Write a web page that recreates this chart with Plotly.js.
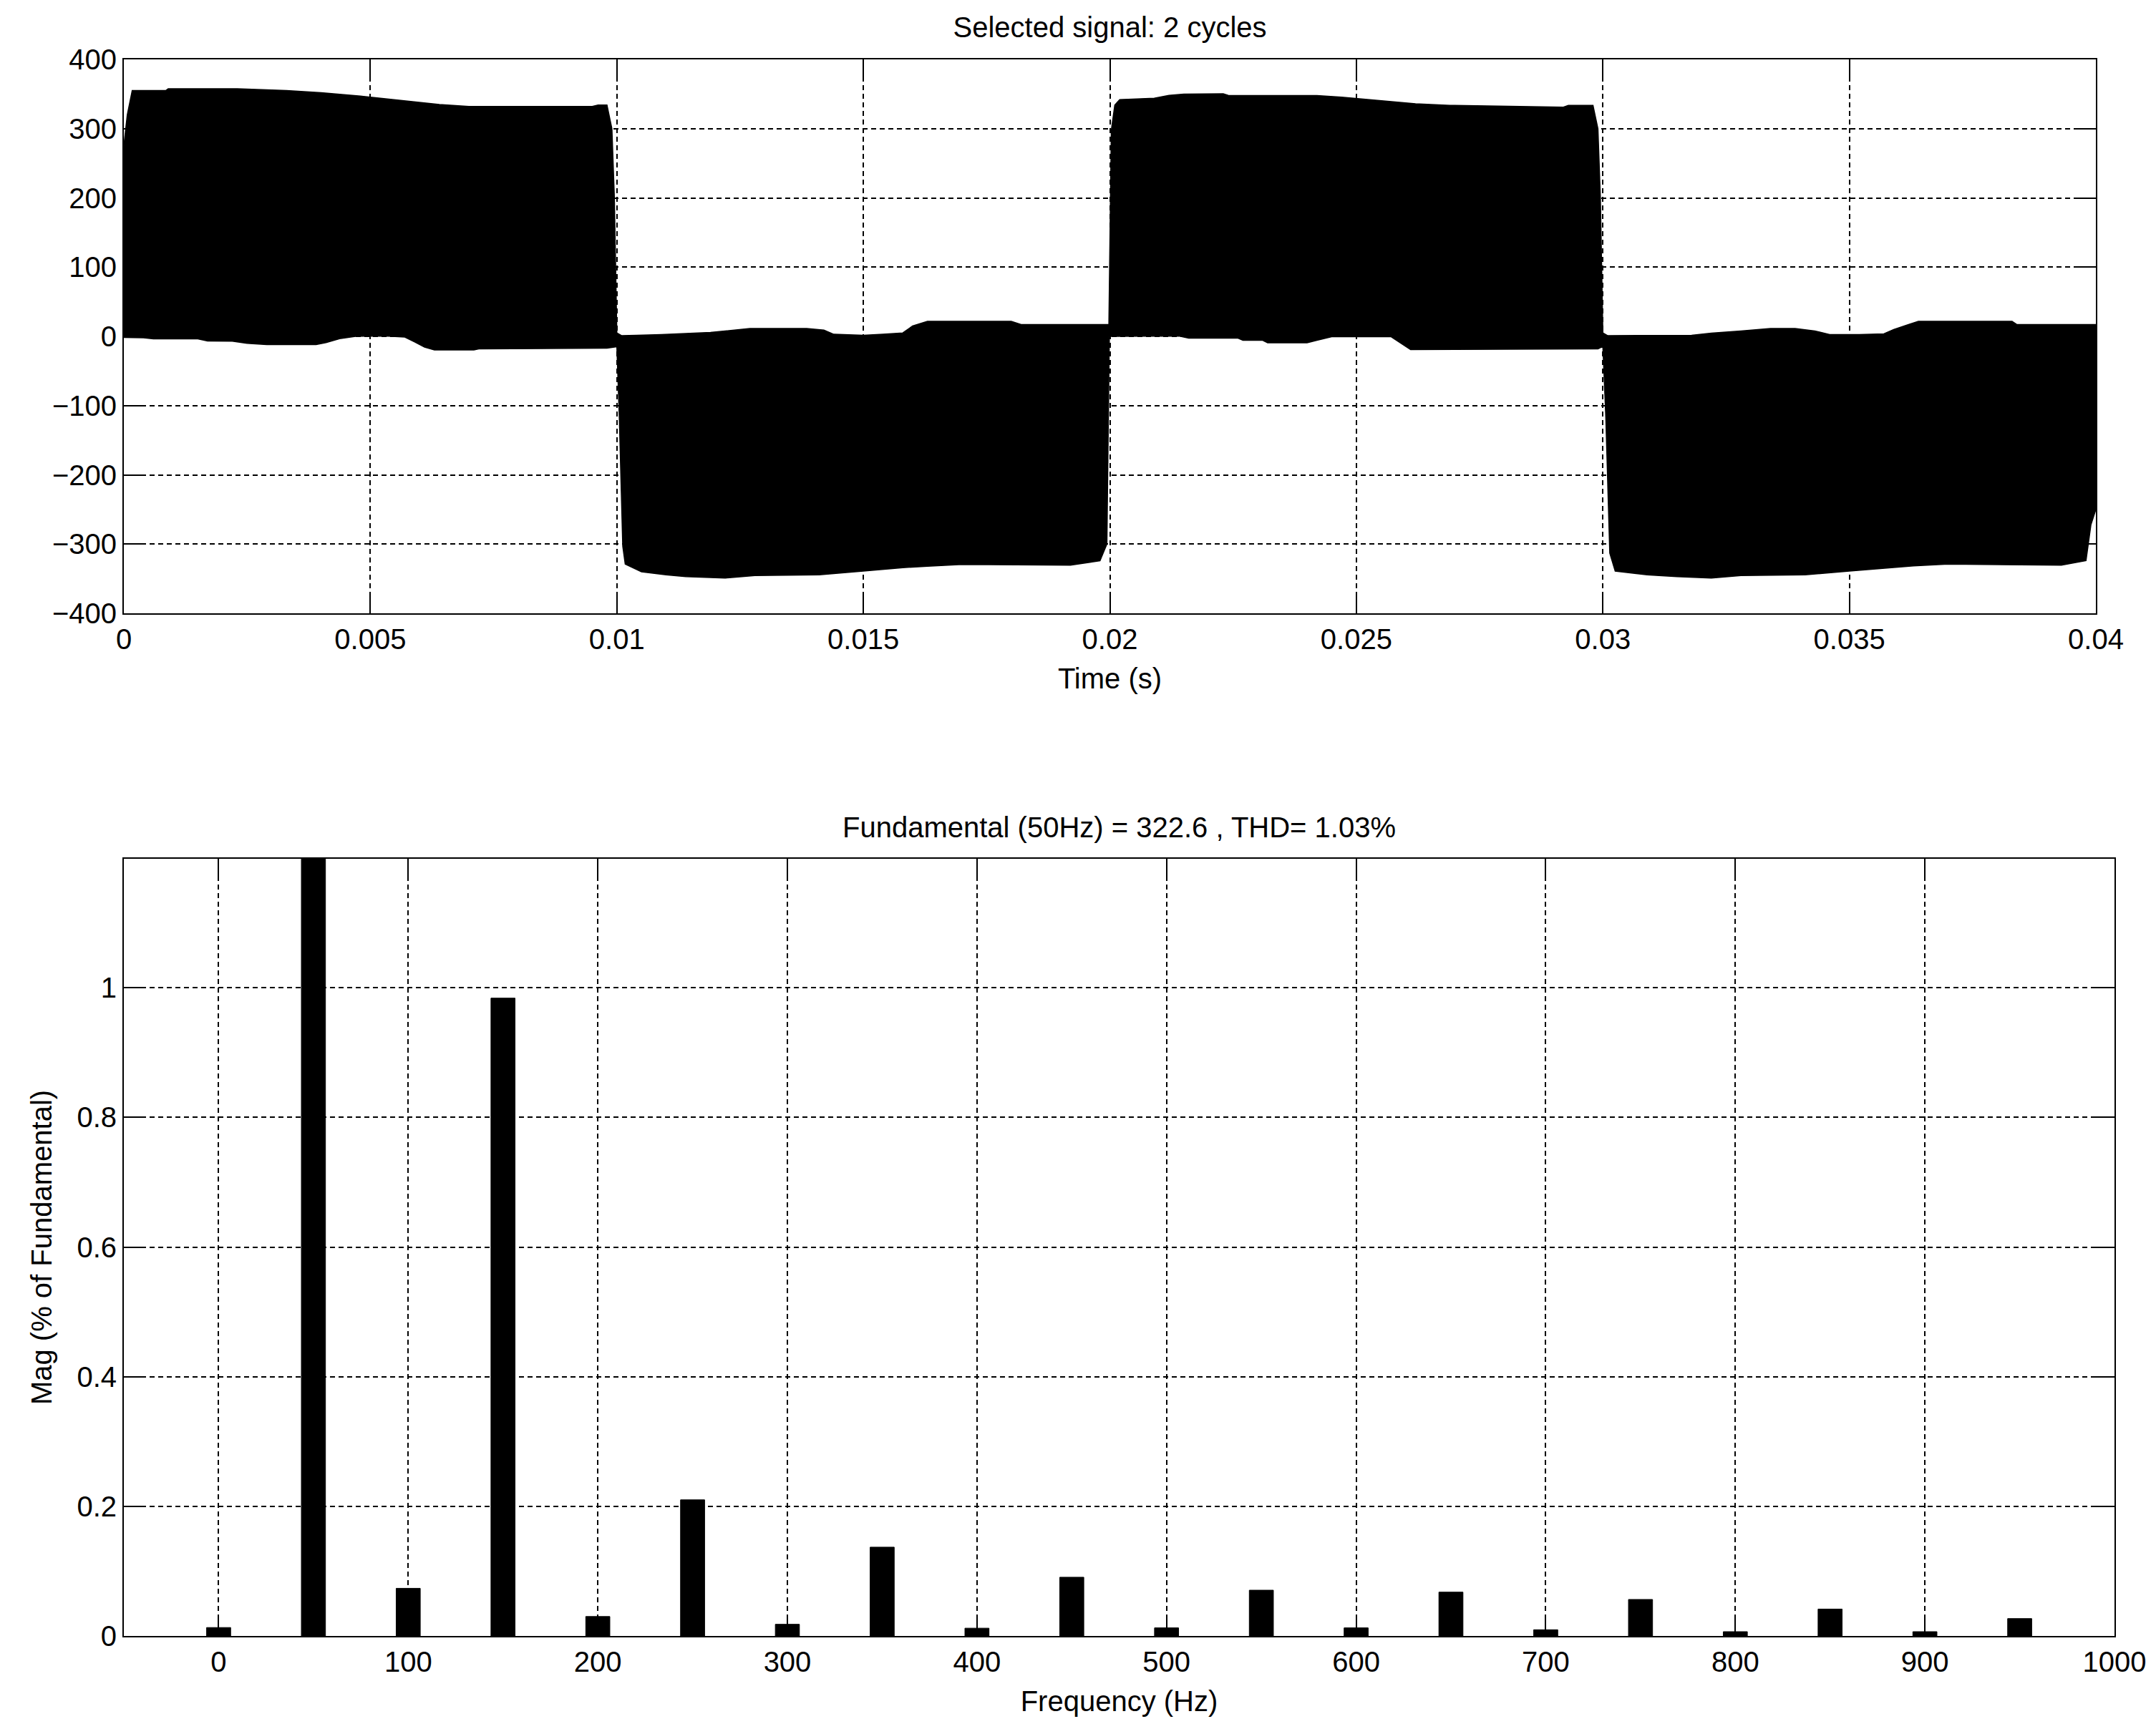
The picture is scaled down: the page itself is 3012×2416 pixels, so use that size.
<!DOCTYPE html>
<html>
<head>
<meta charset="utf-8">
<script src="https://cdn.plot.ly/plotly-3.0.1.min.js"></script>
<style>html,body{margin:0;padding:0;background:#fff;}#chart{width:3012px;height:2416px;}</style>
</head>
<body>
<div id="chart"></div>
<script>
// ---- Top panel: envelope of the PWM signal ----
const tUpper = [0, 0.00007, 0.00017, 0.00085, 0.0009, 0.0023, 0.0033, 0.004, 0.0048, 0.0056, 0.0064, 0.007, 0.0095, 0.00962, 0.0098, 0.0099, 0.00995, 0.0100,
  0.0101, 0.0104, 0.0109, 0.0119, 0.0127, 0.01385, 0.0142, 0.0144, 0.0150, 0.0154, 0.0158, 0.0160, 0.0163, 0.0180, 0.0182, 0.01998,
  0.02003, 0.0201, 0.0202, 0.0209, 0.0212, 0.0215, 0.0223, 0.0224, 0.0242, 0.0247, 0.0253, 0.0258, 0.0262, 0.0269, 0.0292, 0.0293, 0.0298, 0.0299, 0.02995, 0.0300,
  0.0301, 0.0318, 0.0322, 0.0328, 0.0334, 0.0339, 0.0343, 0.0346, 0.0352, 0.0357, 0.0359, 0.0362, 0.0364, 0.0383, 0.0384, 0.04];
const vUpper = [275, 320, 355, 355, 357.5, 357.5, 355, 352, 347, 341, 335, 332, 332, 334, 334, 300, 200, 5,
  1, 1.5, 2.6, 5.7, 11.4, 11.4, 9, 3, 1.5, 3, 5, 15, 21.8, 21.8, 17, 17,
  298, 334, 342, 344, 348, 350, 350.5, 348, 347.7, 345.6, 342, 339, 336, 333.7, 331, 333.7, 333.7, 300, 200, 5,
  1, 1.5, 4.7, 7.8, 11.4, 11.4, 7.8, 2.6, 2.6, 3.6, 10, 17, 21.8, 21.8, 17, 17];
const tLower = [0, 0.0004, 0.0006, 0.0015, 0.0017, 0.0022, 0.0025, 0.0029, 0.0039, 0.0041, 0.0044, 0.0047, 0.0053, 0.0057, 0.0059, 0.0061, 0.0063, 0.0071, 0.0072, 0.0098, 0.01,
  0.01005, 0.01012, 0.01017, 0.0105, 0.011, 0.0114, 0.0122, 0.0128, 0.0141, 0.015, 0.0158, 0.0163, 0.017, 0.0192, 0.0198, 0.01994, 0.01999,
  0.0201, 0.0214, 0.0216, 0.0226, 0.0227, 0.0231, 0.0232, 0.024, 0.0242, 0.0245, 0.0257, 0.0259, 0.0261, 0.0299, 0.03,
  0.03006, 0.03014, 0.03025, 0.0309, 0.0315, 0.0322, 0.0328, 0.0341, 0.035, 0.0358, 0.0363, 0.037, 0.0393, 0.0398, 0.0399, 0.04];
const vLower = [-1.5, -2, -3.6, -3.6, -6.7, -7, -10, -12, -12, -9, -3, 0, 0.5, -1, -8, -15.5, -19.7, -19.7, -18, -17, -15,
  -117, -303, -329, -340, -344.5, -347, -349, -345.6, -344.5, -339, -334, -332, -329.5, -330.6, -324, -300, 0,
  0, 0.5, -2.6, -2.6, -5.7, -5.7, -9.3, -9.3, -5.7, -0.5, -0.5, -10, -19, -18, -14.5,
  -117, -313, -339, -344.5, -347, -349, -345.6, -344.5, -339, -334, -331.6, -329, -330.6, -324, -272, -250];
const timeTicks = [0, 0.005, 0.01, 0.015, 0.02, 0.025, 0.03, 0.035, 0.04];
const timeTickText = ['0', '0.005', '0.01', '0.015', '0.02', '0.025', '0.03', '0.035', '0.04'];
const voltTicks = [-400, -300, -200, -100, 0, 100, 200, 300, 400];
const voltTickText = ['\u2212400', '\u2212300', '\u2212200', '\u2212100', '0', '100', '200', '300', '400'];

// ---- Bottom panel: harmonic spectrum ----
const freqs = [0, 50, 100, 150, 200, 250, 300, 350, 400, 450, 500, 550, 600, 650, 700, 750, 800, 850, 900, 950];
const mags = [0.013, 100, 0.0735, 0.984, 0.030, 0.21, 0.018, 0.137, 0.012, 0.0906, 0.0125, 0.0706, 0.0125, 0.0676, 0.0096, 0.0563, 0.0066, 0.0415, 0.0066, 0.0268];
const freqTicks = [0, 100, 200, 300, 400, 500, 600, 700, 800, 900, 1000];
const magTicks = [0, 0.2, 0.4, 0.6, 0.8, 1];
const magTickText = ['0', '0.2', '0.4', '0.6', '0.8', '1'];

const FONT = 'Liberation Sans, Arial, Helvetica, sans-serif';
const axBase = {
  showline: true, linecolor: '#000', linewidth: 2, mirror: 'allticks',
  ticks: 'inside', ticklen: 27, tickwidth: 2, tickcolor: '#000',
  showgrid: true, gridcolor: '#000', gridwidth: 2, griddash: '7px,5px',
  zeroline: false, tickfont: {family: FONT, size: 40, color: '#000'},
  automargin: false
};

const traces = [
  {x: tLower, y: vLower, type: 'scatter', mode: 'lines', line: {color: '#000', width: 1.5},
   xaxis: 'x', yaxis: 'y', hoverinfo: 'skip'},
  {x: tUpper, y: vUpper, type: 'scatter', mode: 'lines', line: {color: '#000', width: 1.5},
   fill: 'tonexty', fillcolor: '#000', xaxis: 'x', yaxis: 'y', hoverinfo: 'skip'},
  {x: freqs, y: mags, type: 'bar', width: 12.7, marker: {color: '#000', line: {color: '#000', width: 1}},
   xaxis: 'x2', yaxis: 'y2'}
];

const layout = {
  width: 3012, height: 2416,
  margin: {l: 173, r: 58, t: 83, b: 130},
  paper_bgcolor: '#fff', plot_bgcolor: '#fff',
  showlegend: false,
  font: {family: FONT, size: 40, color: '#000'},
  title: {text: 'Selected signal: 2 cycles', font: {family: FONT, size: 40, color: '#000'},
          x: 0.51478, xref: 'container', xanchor: 'center', y: 0.98427, yref: 'container', yanchor: 'middle'},
  xaxis: Object.assign({}, axBase, {domain: [0, 0.99065], range: [0, 0.04], tickvals: timeTicks, ticktext: timeTickText,
          anchor: 'y', title: {text: 'Time (s)', font: {family: FONT, size: 40, color: '#000'}, standoff: 20}}),
  yaxis: Object.assign({}, axBase, {domain: [0.64866, 1], range: [-400, 400], tickvals: voltTicks, ticktext: voltTickText, anchor: 'x'}),
  xaxis2: Object.assign({}, axBase, {domain: [0, 1], range: [-50, 1000], tickvals: freqTicks, anchor: 'y2',
          title: {text: 'Frequency (Hz)', font: {family: FONT, size: 40, color: '#000'}, standoff: 20}}),
  yaxis2: Object.assign({}, axBase, {domain: [0, 0.49296], range: [0, 1.199], tickvals: magTicks, ticktext: magTickText, anchor: 'x2',
          title: {text: 'Mag (% of Fundamental)', font: {family: FONT, size: 40, color: '#000'}, standoff: 22}}),
  annotations: [
    {text: 'Fundamental (50Hz) = 322.6 , THD= 1.03%', xref: 'paper', yref: 'paper', x: 0.5, y: 0.51294,
     xanchor: 'center', yanchor: 'middle', showarrow: false, font: {family: FONT, size: 40, color: '#000'}}
  ]
};

Plotly.newPlot('chart', traces, layout, {staticPlot: true, displayModeBar: false});
</script>
</body>
</html>
